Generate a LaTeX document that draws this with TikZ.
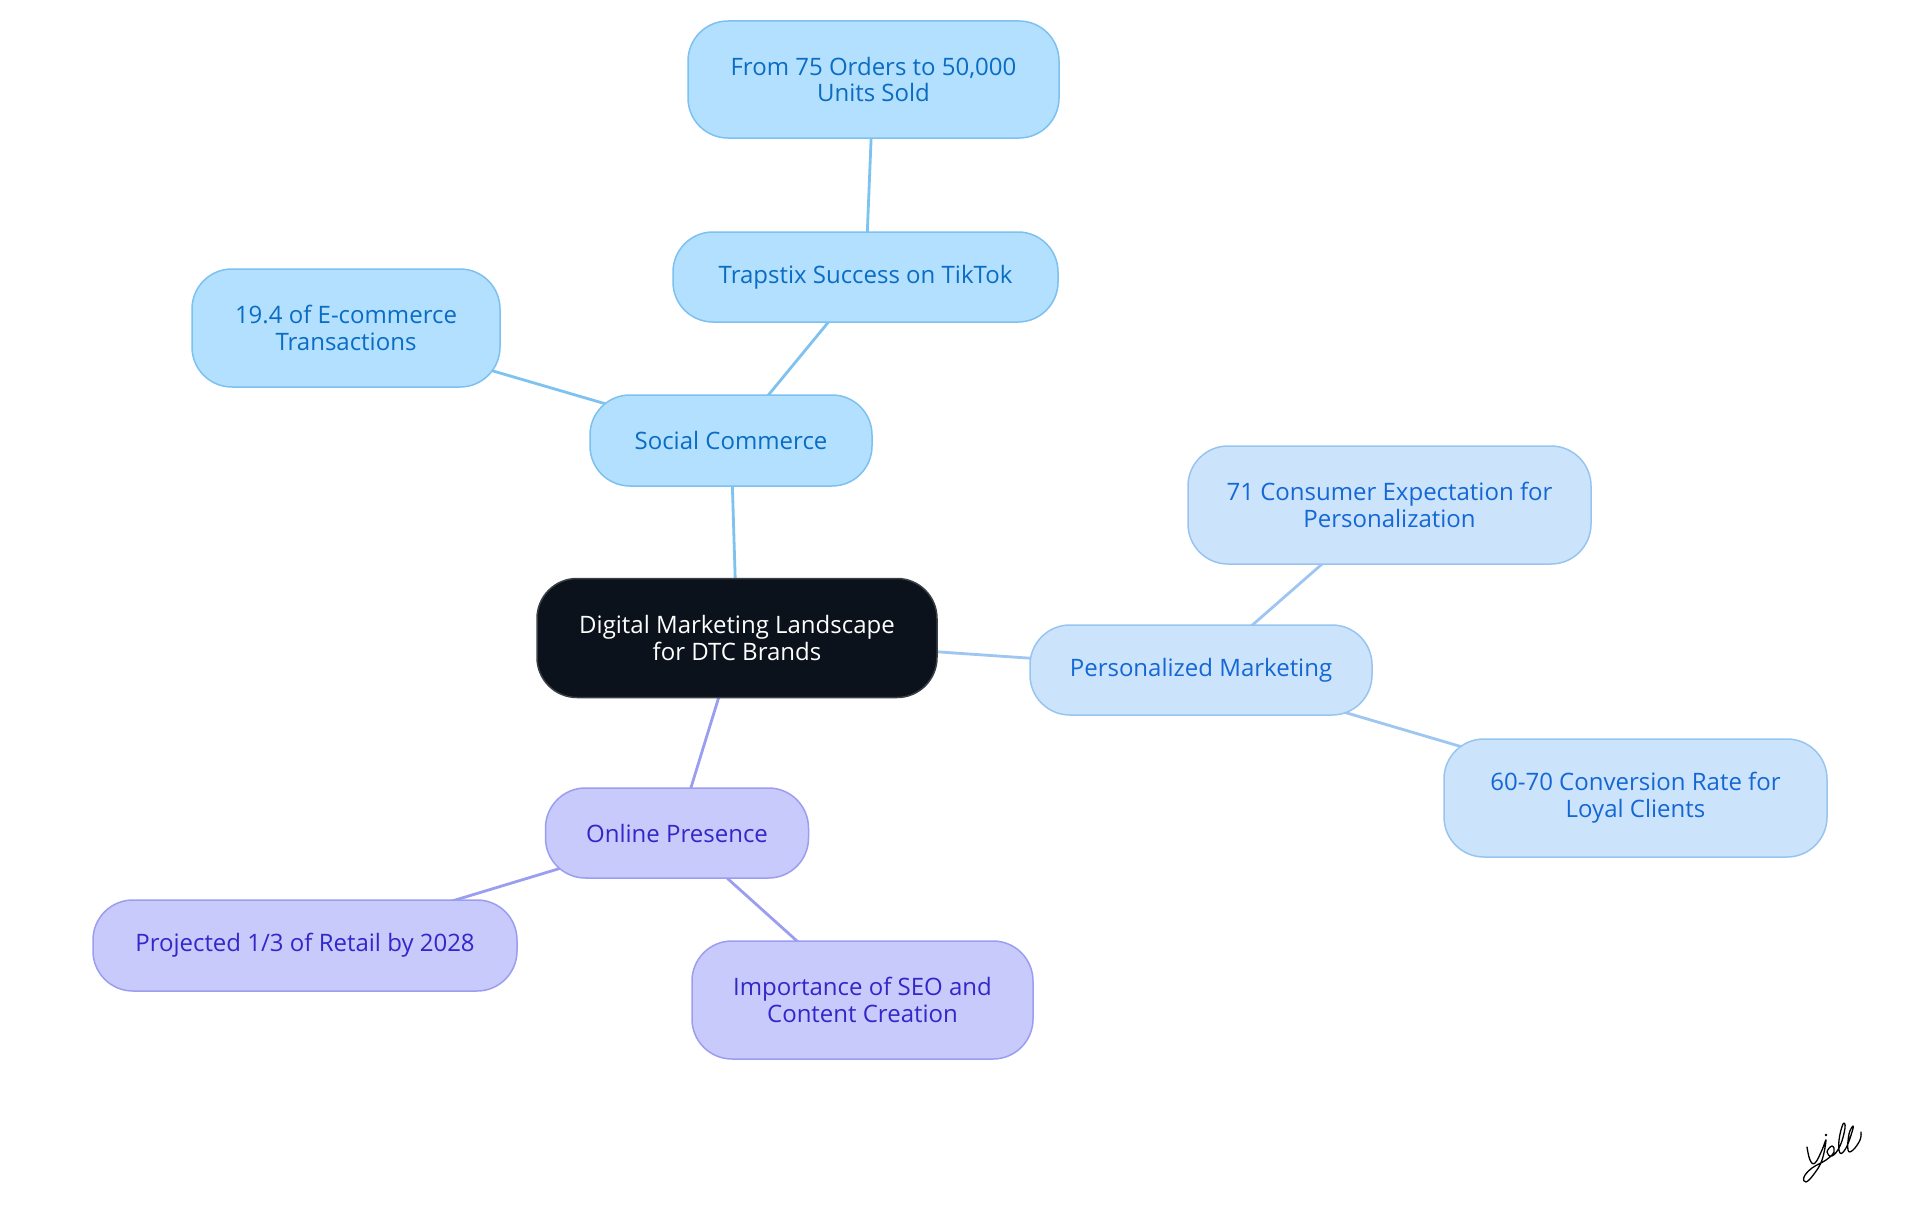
\documentclass[tikz,border=0pt]{standalone}
\usepackage{fontspec}
\setmainfont{Open Sans}
\usetikzlibrary{backgrounds}
\definecolor{scfill}{HTML}{B3E0FF}
\definecolor{scborder}{HTML}{7DC1F0}
\definecolor{sctext}{HTML}{0A6CC2}
\definecolor{scline}{HTML}{7EC2F0}
\definecolor{pmfill}{HTML}{CCE4FB}
\definecolor{pmborder}{HTML}{98C4F0}
\definecolor{pmtext}{HTML}{1467D4}
\definecolor{pmline}{HTML}{9DC6F0}
\definecolor{opfill}{HTML}{C8CAFC}
\definecolor{opborder}{HTML}{9B9EF0}
\definecolor{optext}{HTML}{3227C8}
\definecolor{opline}{HTML}{9B9EF0}
\definecolor{cfill}{HTML}{0B121B}
\definecolor{cborder}{HTML}{3A3F46}
\begin{document}
\begin{tikzpicture}[x=1pt,y=-1pt,
  base/.style={rounded corners=40pt, draw, line width=1.5pt, align=center, inner sep=0pt,
    font=\fontsize{24}{27}\selectfont},
  scnode/.style={base, fill=scfill, draw=scborder, text=sctext},
  pmnode/.style={base, fill=pmfill, draw=pmborder, text=pmtext},
  opnode/.style={base, fill=opfill, draw=opborder, text=optext},
  cnode/.style={base, fill=cfill, draw=cborder, text=white},
  conn/.style={line width=2.8pt},
]
\useasboundingbox (0,0) rectangle (1920,1215);

\node[cnode, minimum width=400pt, minimum height=119pt] (c) at (737,638) {Digital Marketing Landscape\\for DTC Brands};
\node[scnode, minimum width=282pt, minimum height=91pt] (sc) at (731,440.5) {Social Commerce};
\node[scnode, minimum width=385pt, minimum height=90pt] (tr) at (865.5,277) {Trapstix Success on TikTok};
\node[scnode, minimum width=371pt, minimum height=117pt] (fr) at (873.5,79.5) {From 75 Orders to 50,000\\Units Sold};
\node[scnode, minimum width=308pt, minimum height=118pt] (ec) at (346,328) {19.4 of E-commerce\\Transactions};
\node[pmnode, minimum width=342pt, minimum height=90pt] (pm) at (1201,670) {Personalized Marketing};
\node[pmnode, minimum width=403pt, minimum height=118pt] (ce) at (1389.5,505) {71 Consumer Expectation for\\Personalization};
\node[pmnode, minimum width=383pt, minimum height=118pt] (cr) at (1635.5,798) {60-70 Conversion Rate for\\Loyal Clients};
\node[opnode, minimum width=263pt, minimum height=90pt] (op) at (677,833) {Online Presence};
\node[opnode, minimum width=424pt, minimum height=91pt] (pr) at (305,945.5) {Projected 1/3 of Retail by 2028};
\node[opnode, minimum width=341pt, minimum height=118pt] (se) at (862.5,1000) {Importance of SEO and\\Content Creation};

\begin{scope}[on background layer]
\fill[white] (0,0) rectangle (1920,1215);
\draw[conn, scline] (c.center) -- (sc.center);
\draw[conn, scline] (sc.center) -- (tr.center);
\draw[conn, scline] (tr.center) -- (fr.center);
\draw[conn, scline] (sc.center) -- (ec.center);
\draw[conn, pmline] (c.center) -- (pm.center);
\draw[conn, pmline] (pm.center) -- (ce.center);
\draw[conn, pmline] (pm.center) -- (cr.center);
\draw[conn, opline] (c.center) -- (op.center);
\draw[conn, opline] (op.center) -- (pr.center);
\draw[conn, opline] (op.center) -- (se.center);
\end{scope}

% signature
\draw[black, line width=1.3pt, line cap=round, line join=round]
  plot[smooth, tension=0.7] coordinates {(1807,1147) (1810,1160) (1815,1163) (1822,1150) (1826,1140) (1822,1160) (1814,1174) (1806,1182) (1804,1177) (1812,1168) (1826,1160) (1834,1152) (1832,1146) (1827,1152) (1832,1156) (1840,1146) (1845,1128) (1843,1124) (1839,1140) (1840,1153) (1846,1148) (1852,1132) (1853,1126) (1849,1134) (1848,1150) (1853,1150) (1860,1140) (1861,1132)};
\fill[black] (1826,1135) circle (1.4pt);
\end{tikzpicture}
\end{document}
